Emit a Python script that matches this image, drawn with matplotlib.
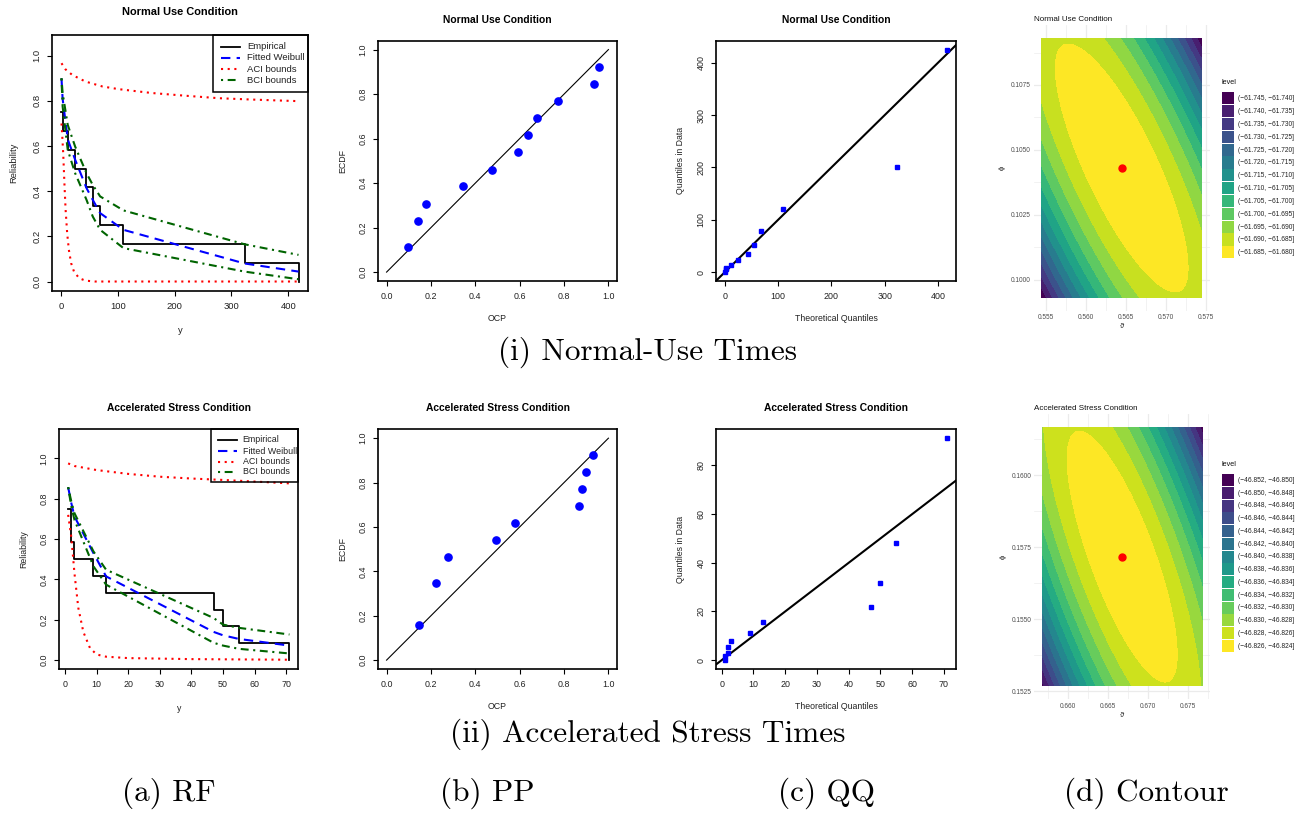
import numpy as np
import matplotlib
matplotlib.use("Agg")
import matplotlib.pyplot as plt
from matplotlib.patches import Rectangle

# ── normal-use sample: curves evaluated at the observed (distinct) times ─────
NU_T = [1, 3, 12, 25, 45, 56, 69, 110, 323, 418]
NU_EMP = [0.75, 0.667, 0.583, 0.5, 0.417, 0.333, 0.25, 0.167, 0.083, 0.0]
NU_WEIB = [0.90, 0.81, 0.63, 0.54, 0.414, 0.362, 0.303, 0.229, 0.08, 0.044]
NU_BCI_UP = [0.90, 0.835, 0.694, 0.598, 0.48, 0.428, 0.377, 0.315, 0.165, 0.118]
NU_BCI_LO = [0.90, 0.776, 0.583, 0.48, 0.362, 0.288, 0.229, 0.148, 0.044, 0.01]
NU_ACI_UP_T = [1, 8, 20, 43, 73, 102, 160, 219, 278, 336, 418]
NU_ACI_UP = [0.967, 0.94, 0.915, 0.886, 0.864, 0.852, 0.835, 0.823, 0.812, 0.806, 0.799]
NU_ACI_LO_T = [1, 2, 4, 6.4, 8.2, 11, 14, 18, 23, 32, 43, 60, 418]
NU_ACI_LO = [0.70, 0.66, 0.57, 0.42, 0.32, 0.214, 0.14, 0.081, 0.044, 0.015, 0.004, 0.0, 0.0]

NU_PP_OCP = [0.098, 0.143, 0.176, 0.344, 0.474, 0.592, 0.637, 0.676, 0.772, 0.934, 0.956]
NU_PP_ECDF = [0.115, 0.231, 0.307, 0.385, 0.46, 0.538, 0.616, 0.693, 0.771, 0.847, 0.923]

NU_QQ_THEO = [0.5, 1.5, 3, 11.5, 24.5, 43.5, 54.5, 67.5, 109.5, 323, 417]
NU_QQ_DATA = [0, 5, 8.5, 14, 23.5, 34.5, 51.5, 78.5, 120, 201, 425]

# ── accelerated-stress sample ────────────────────────────────────────────────
AS_T = [1, 2, 3, 9, 13, 47, 50, 55, 71]
AS_EMP = [0.75, 0.583, 0.5, 0.417, 0.333, 0.25, 0.167, 0.083, 0.0]
AS_WEIB = [0.857, 0.778, 0.712, 0.53, 0.415, 0.14, 0.123, 0.105, 0.072]
AS_BCI_UP = [0.857, 0.786, 0.728, 0.539, 0.448, 0.209, 0.176, 0.16, 0.127]
AS_BCI_LO = [0.857, 0.761, 0.695, 0.465, 0.374, 0.086, 0.072, 0.056, 0.033]
AS_ACI_UP_T = [1, 3, 10, 20, 30, 40, 50, 60, 71]
AS_ACI_UP = [0.975, 0.962, 0.942, 0.923, 0.909, 0.90, 0.893, 0.885, 0.876]
AS_ACI_LO_T = [1, 2, 3, 4.2, 5.8, 7.9, 10, 13, 20, 40, 71]
AS_ACI_LO = [0.72, 0.61, 0.43, 0.26, 0.14, 0.06, 0.028, 0.017, 0.01, 0.005, 0.002]

AS_PP_OCP = [0.144, 0.221, 0.278, 0.492, 0.581, 0.869, 0.883, 0.898, 0.932]
AS_PP_ECDF = [0.156, 0.346, 0.463, 0.54, 0.616, 0.694, 0.771, 0.847, 0.925]

AS_QQ_THEO = [1, 1, 2, 2, 3, 9, 13, 47, 50, 55, 71]
AS_QQ_DATA = [0, 1.6, 3, 5.3, 7.8, 11, 15.5, 21.9, 31.5, 48.2, 91.2]

# ── log-likelihood surfaces (quadratic around the MLE) ───────────────────────
NU_MLE = (0.5645, 0.1043)
NU_HALF = (0.0100, 0.0050)
NU_LMAX = -61.6801
NU_CURV = (0.0203, 0.0142, 0.0153)
NU_EDGES = [-61.745, -61.740, -61.735, -61.730, -61.725, -61.720, -61.715,
            -61.710, -61.705, -61.700, -61.695, -61.690, -61.685, -61.680]
NU_XT = [0.555, 0.560, 0.565, 0.570, 0.575]
NU_YT = [0.1000, 0.1025, 0.1050, 0.1075]

AS_MLE = (0.6668, 0.15717)
AS_HALF = (0.0100, 0.00449)
AS_LMAX = -46.8241
AS_CURV = (0.0102, 0.00565, 0.00515)
AS_EDGES = [-46.852, -46.850, -46.848, -46.846, -46.844, -46.842, -46.840,
            -46.838, -46.836, -46.834, -46.832, -46.830, -46.828, -46.826, -46.824]
AS_XT = [0.660, 0.665, 0.670, 0.675]
AS_YT = [0.1525, 0.1550, 0.1575, 0.1600]

LEGEND_LABELS = ["Empirical", "Fitted Weibull", "ACI bounds", "BCI bounds"]

# ── styles ───────────────────────────────────────────────────────────────────
W, H = 1309, 815
STY = {
    "emp":  dict(color="black", lw=1.3, ls="-"),
    "weib": dict(color="blue", lw=1.5, ls=(0, (4.5, 3))),
    "aci":  dict(color="red", lw=1.5, ls=(0, (1, 2.2))),
    "bci":  dict(color="darkgreen", lw=1.5, ls=(0, (1, 2.2, 3.8, 2.2))),
}

plt.rcParams["font.family"] = ["Liberation Sans", "DejaVu Sans"]
fig = plt.figure(figsize=(W / 100, H / 100), dpi=100)


def rect(x0, y0, x1, y1):
    return [x0 / W, 1 - y1 / H, (x1 - x0) / W, (y1 - y0) / H]


def r_lim(lo, hi):
    d = 0.04 * (hi - lo)
    return lo - d, hi + d


def r_panel(box, xlim, ylim, xt, yt, xfmt, yfmt, title, xlab, ylab, s=1.0,
            ylabpad=8, tpad=13, xlabpad=9.5):
    ax = fig.add_axes(rect(*box))
    ax.set_xticks(xt)
    ax.set_xticklabels([xfmt.format(v) for v in xt])
    ax.set_yticks(yt)
    ax.set_yticklabels([yfmt.format(v) for v in yt], rotation=90, va="center")
    ax.set_xlim(*xlim)
    ax.set_ylim(*ylim)
    ax.tick_params(direction="out", length=3.6, width=0.8, labelsize=6.4 * s,
                   labelcolor="#222222")
    ax.tick_params(axis="x", pad=4.5)
    ax.tick_params(axis="y", pad=4.0)
    for sp in ax.spines.values():
        sp.set_linewidth(1.2)
    ax.set_title(title, fontsize=7.4 * s, fontweight="bold", pad=tpad)
    ax.set_xlabel(xlab, fontsize=6.3 * s, labelpad=xlabpad, color="#222222")
    ax.set_ylabel(ylab, fontsize=6.3 * s, labelpad=ylabpad, color="#222222")
    return ax


def rf_plot(ax, t, emp, weib, bu, bl, au_t, au, al_t, al):
    ax.plot(t, emp, drawstyle="steps-post", **STY["emp"])
    ax.plot(t, weib, **STY["weib"])
    ax.plot(au_t, au, **STY["aci"])
    ax.plot(al_t, al, **STY["aci"])
    ax.plot(t, bu, **STY["bci"])
    ax.plot(t, bl, **STY["bci"])


# overlay in pixel coordinates for legends
ov = fig.add_axes([0, 0, 1, 1], zorder=10)
ov.set_xlim(0, W)
ov.set_ylim(H, 0)
ov.axis("off")


def rf_legend(box, rows, lx, tx, fs):
    x0, y0, x1, y1 = box
    ov.add_patch(Rectangle((x0, y0), x1 - x0, y1 - y0, fill=False, ec="black", lw=1.1))
    for key, lab, yy in zip(["emp", "weib", "aci", "bci"], LEGEND_LABELS, rows):
        ov.plot(lx, [yy, yy], **STY[key])
        ov.text(tx, yy, lab, fontsize=fs, va="center", ha="left", color="#222222")


# ── (a) RF ───────────────────────────────────────────────────────────────────
ax = r_panel((52, 35, 308, 291), r_lim(min(NU_T), max(NU_T)), r_lim(0, 1.05),
             [0, 100, 200, 300, 400], [0, 0.2, 0.4, 0.6, 0.8, 1.0], "{:.0f}", "{:.1f}",
             "Normal Use Condition", "y", "Reliability", s=1.067, ylabpad=10, tpad=14.5,
             xlabpad=10.5)
rf_plot(ax, NU_T, NU_EMP, NU_WEIB, NU_BCI_UP, NU_BCI_LO,
        NU_ACI_UP_T, NU_ACI_UP, NU_ACI_LO_T, NU_ACI_LO)
rf_legend((213.3, 35, 308, 91.7), [46.7, 57.7, 69.3, 80.3], [220.7, 240], 247.3, 6.8)

ax = r_panel((59.3, 429.3, 298.3, 669), r_lim(min(AS_T), max(AS_T)), r_lim(0, 1.1),
             [0, 10, 20, 30, 40, 50, 60, 70], [0, 0.2, 0.4, 0.6, 0.8, 1.0], "{:.0f}", "{:.1f}",
             "Accelerated Stress Condition", "y", "Reliability", xlabpad=10.5)
rf_plot(ax, AS_T, AS_EMP, AS_WEIB, AS_BCI_UP, AS_BCI_LO,
        AS_ACI_UP_T, AS_ACI_UP, AS_ACI_LO_T, AS_ACI_LO)
rf_legend((210.7, 429.3, 298.3, 482.3), [440, 451, 461.7, 472], [218.3, 236.7], 242.7, 6.4)

# ── (b) PP ───────────────────────────────────────────────────────────────────
for box, ocp, ecdf, title in [((377.7, 40.7, 617.3, 281), NU_PP_OCP, NU_PP_ECDF, "Normal Use Condition"),
                              ((377.7, 429.3, 617.3, 669), AS_PP_OCP, AS_PP_ECDF, "Accelerated Stress Condition")]:
    tk = [0, 0.2, 0.4, 0.6, 0.8, 1.0]
    ax = r_panel(box, r_lim(0, 1), r_lim(0, 1), tk, tk, "{:.1f}", "{:.1f}", title, "OCP", "ECDF")
    ax.plot([0, 1], [0, 1], color="black", lw=0.8)
    ax.plot(ocp, ecdf, "o", color="blue", ms=5.2, mec="blue")

# ── (c) QQ ───────────────────────────────────────────────────────────────────
ax = r_panel((716, 40.7, 956, 281), r_lim(0, max(NU_QQ_THEO)), r_lim(0, max(NU_QQ_DATA)),
             [0, 100, 200, 300, 400], [0, 100, 200, 300, 400], "{:.0f}", "{:.0f}",
             "Normal Use Condition", "Theoretical Quantiles", "Quantiles in Data")
ax.axline((0, 0), slope=1, color="black", lw=1.5)
ax.plot(NU_QQ_THEO, NU_QQ_DATA, "s", color="blue", ms=2.8)

ax = r_panel((716, 429.3, 956, 669), r_lim(min(AS_QQ_THEO), max(AS_QQ_THEO)),
             r_lim(0, max(AS_QQ_DATA)),
             [0, 10, 20, 30, 40, 50, 60, 70], [0, 20, 40, 60, 80], "{:.0f}", "{:.0f}",
             "Accelerated Stress Condition", "Theoretical Quantiles", "Quantiles in Data")
ax.axline((0, 0), slope=1, color="black", lw=1.5)
ax.plot(AS_QQ_THEO, AS_QQ_DATA, "s", color="blue", ms=2.8)


# ── (d) Contour ──────────────────────────────────────────────────────────────
def contour_panel(box, mle, half, lmax, curv, edges, xt, yt, title, leg_top, pitch):
    ax = fig.add_axes(rect(*box))
    th = np.linspace(mle[0] - half[0], mle[0] + half[0], 241)
    ph = np.linspace(mle[1] - half[1], mle[1] + half[1], 241)
    TH, PH = np.meshgrid(th, ph)
    U = (TH - mle[0]) / half[0]
    V = (PH - mle[1]) / half[1]
    a, b, c = curv
    Z = lmax - (a * U ** 2 + 2 * b * U * V + c * V ** 2)
    Z = np.clip(Z, edges[0] + 1e-7, edges[-1] - 1e-7)
    cols = plt.cm.viridis(np.linspace(0, 1, len(edges) - 1))
    ax.contourf(TH, PH, Z, levels=edges, colors=cols)
    ax.plot([mle[0]], [mle[1]], "o", color="red", ms=5)
    dx = 0.05 * (th[-1] - th[0])
    dy = 0.05 * (ph[-1] - ph[0])
    xlim = (th[0] - dx, th[-1] + dx)
    ylim = (ph[0] - dy, ph[-1] + dy)
    ax.set_xticks(xt)
    ax.set_xticklabels(["{:.3f}".format(v) for v in xt])
    ax.set_yticks(yt)
    ax.set_yticklabels(["{:.4f}".format(v) for v in yt])
    sx = xt[1] - xt[0]
    sy = yt[1] - yt[0]
    xm = [v + sx / 2 for v in [xt[0] - sx] + xt if xlim[0] < v + sx / 2 < xlim[1]]
    ym = [v + sy / 2 for v in [yt[0] - sy] + yt if ylim[0] < v + sy / 2 < ylim[1]]
    ax.set_xticks(xm, minor=True)
    ax.set_yticks(ym, minor=True)
    ax.set_xlim(*xlim)
    ax.set_ylim(*ylim)
    ax.grid(which="major", color="#EBEBEB", lw=0.9)
    ax.grid(which="minor", color="#EBEBEB", lw=0.45)
    ax.set_axisbelow(True)
    ax.tick_params(which="both", length=0, labelsize=4.7, labelcolor="#4D4D4D")
    ax.tick_params(axis="x", pad=2.6)
    ax.tick_params(axis="y", pad=2.2)
    for sp in ax.spines.values():
        sp.set_visible(False)
    ax.set_xlabel("\u03d1", fontsize=5.5, labelpad=1.5, color="#222222")
    ax.set_ylabel("\u03d5", fontsize=5.5, labelpad=3.6, color="#222222")
    ax.set_title(title, fontsize=5.8, loc="left", pad=3.2, color="#111111")
    # legend
    ov.text(1222, leg_top - 9.3, "level", fontsize=5.25, va="center", ha="left", color="#111111")
    for i in range(len(edges) - 1):
        y0 = leg_top + i * pitch
        ov.add_patch(Rectangle((1222.3, y0), 12, pitch - 0.7, color=cols[i], lw=0))
        lab = "(\u2212{:.3f}, \u2212{:.3f}]".format(abs(edges[i]), abs(edges[i + 1]))
        ov.text(1238.5, y0 + pitch / 2, lab, fontsize=4.8, va="center", ha="left", color="#222222")


contour_panel((1033.7, 25.3, 1209.7, 310.7), NU_MLE, NU_HALF, NU_LMAX, NU_CURV, NU_EDGES,
              NU_XT, NU_YT, "Normal Use Condition", 92.3, 12.83)
contour_panel((1034.3, 414.4, 1210, 698.9), AS_MLE, AS_HALF, AS_LMAX, AS_CURV, AS_EDGES,
              AS_XT, AS_YT, "Accelerated Stress Condition", 474, 12.76)

# ── captions ─────────────────────────────────────────────────────────────────
CAP = dict(family=["cmr10", "DejaVu Serif"], fontsize=22.5, ha="center", va="center")
fig.text(647.5 / W, 1 - 352 / H, "(i) Normal-Use Times", **CAP)
fig.text(647.5 / W, 1 - 734 / H, "(ii) Accelerated Stress Times", **CAP)
for x, s in [(169, "(a) RF"), (487, "(b) PP"), (826.5, "(c) QQ"), (1146.5, "(d) Contour")]:
    fig.text(x / W, 1 - 793 / H, s, **CAP)

fig.savefig("out.png", dpi=100)
